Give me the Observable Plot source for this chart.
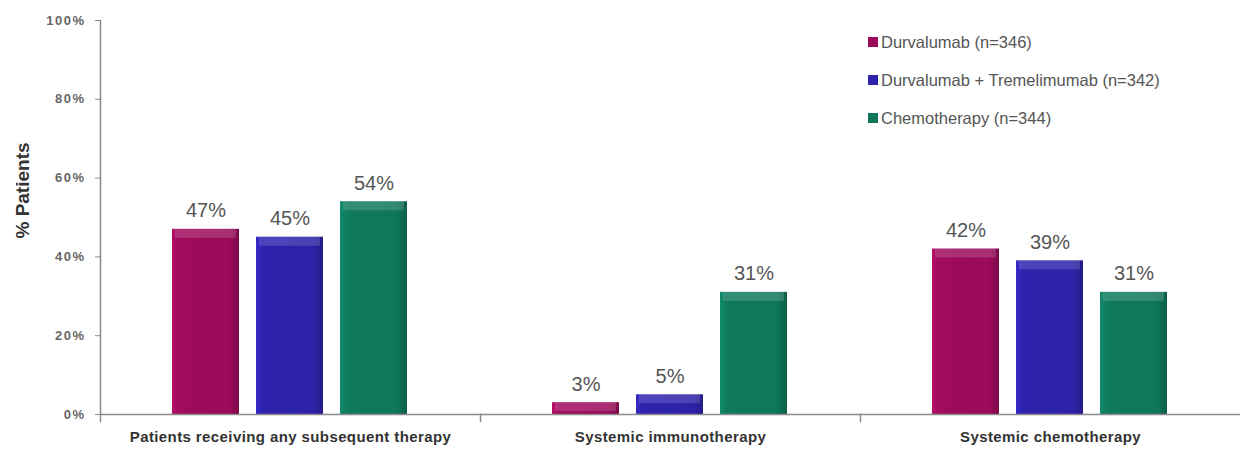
<!DOCTYPE html>
<html>
<head>
<meta charset="utf-8">
<script src="https://cdn.jsdelivr.net/npm/d3@7"></script>
<script src="https://cdn.jsdelivr.net/npm/@observablehq/plot@0.6"></script>
<style>
  html, body { margin: 0; padding: 0; background: #fff; }
  #wrap { position: relative; width: 1240px; height: 449px; font-family: "Liberation Sans", Arial, sans-serif; }
  #legend { position: absolute; left: 868px; top: 31px; font-size: 16.5px; color: #555; }
  #legend .row { display: flex; align-items: center; height: 22px; margin-bottom: 16px; }
  #legend .sw { width: 10px; height: 10px; margin-right: 3px; }
  g[aria-label="y-axis tick label"] text { letter-spacing: 1.5px; }
  g[aria-label="fx-axis tick label"] text { letter-spacing: 0.4px; }
</style>
</head>
<body>
<div id="wrap"><div id="legend"></div></div>
<script>
// Subsequent therapy by treatment arm (% of patients)
const categories = [
  "Patients receiving any subsequent therapy",
  "Systemic immunotherapy",
  "Systemic chemotherapy"
];
const series = [
  "Durvalumab (n=346)",
  "Durvalumab + Tremelimumab (n=342)",
  "Chemotherapy (n=344)"
];
const colors = ["#9a0b5a", "#2d22a8", "#0f765a"];
const durvalumab = [47, 3, 42];
const durvaTreme = [45, 5, 39];
const chemotherapy = [54, 31, 31];
const yTicks = [0, 20, 40, 60, 80, 100];

const seriesValues = [durvalumab, durvaTreme, chemotherapy];
const rows = [];
categories.forEach((c, i) => {
  series.forEach((s, j) => rows.push({category: c, series: s, value: seriesValues[j][i]}));
});

const fills = colors.map((_, i) => `url(#bevel${i})`);

const chart = Plot.plot({
  width: 1240,
  height: 449,
  marginLeft: 100,
  marginRight: 0,
  marginTop: 20,
  marginBottom: 35,
  style: {fontFamily: "Liberation Sans, Arial, sans-serif", background: "#fff"},
  fx: {domain: categories, padding: 0},
  x: {domain: series, paddingInner: 0.2, paddingOuter: 0.86, axis: null},
  y: {domain: [0, 100]},
  color: {domain: series, range: fills},
  marks: [
    // y axis line (first facet only) and boundary ticks between groups
    Plot.frame({anchor: "left", fx: () => categories[0], stroke: "#8a8a8a", strokeWidth: 1.5}),
    Plot.frame({anchor: "left", insetTop: 394, insetBottom: -7, stroke: "#8a8a8a", strokeWidth: 1.5}),
    Plot.barY(rows, {fx: "category", x: "series", y: "value", fill: "series"}),
    // top bevel highlight
    Plot.barY(rows, {fx: "category", x: "series", y1: "value", y2: "value", insetBottom: -9, insetLeft: 3, insetRight: 3, fill: "#fff", fillOpacity: 0.15}),
    Plot.ruleY([0], {stroke: "#8a8a8a", strokeWidth: 1.5}),
    Plot.text(rows, {fx: "category", x: "series", y: "value", text: d => `${d.value}%`, lineAnchor: "bottom", dy: -12, fontSize: 20, fill: "#555"}),
    Plot.axisY({ticks: yTicks, tickFormat: d => `${d}%`, tickSize: 5, tickPadding: 10, fontSize: 13, fontWeight: "bold", fill: "#666", stroke: "#8a8a8a", label: null}),
    Plot.axisFx({anchor: "bottom", tickSize: 0, tickPadding: 17, fontSize: 15, fontWeight: "bold", fill: "#333", label: null}),
    Plot.text(["% Patients"], {fx: () => categories[0], frameAnchor: "left", textAnchor: "middle", rotate: -90, dx: -78, dy: -27, fontSize: 19, fontWeight: "bold", fill: "#333"})
  ]
});

// bevel gradients for the bar fills
const svg = d3.select(chart.tagName.toLowerCase() === "svg" ? chart : chart.querySelector("svg"));
const defs = svg.insert("defs", ":first-child");
colors.forEach((c, i) => {
  const g = defs.append("linearGradient").attr("id", `bevel${i}`).attr("x1", 0).attr("x2", 1).attr("y1", 0).attr("y2", 0);
  const base = d3.color(c);
  g.append("stop").attr("offset", "0%").attr("stop-color", base.brighter(0.5));
  g.append("stop").attr("offset", "10%").attr("stop-color", base.brighter(0.1));
  g.append("stop").attr("offset", "85%").attr("stop-color", base);
  g.append("stop").attr("offset", "100%").attr("stop-color", base.darker(0.6));
});

const wrap = document.getElementById("wrap");
wrap.insertBefore(chart, wrap.firstChild);

const legend = d3.select("#legend");
series.forEach((s, i) => {
  const r = legend.append("div").attr("class", "row");
  r.append("div").attr("class", "sw").style("background", colors[i]);
  r.append("span").text(s);
});
</script>
</body>
</html>
